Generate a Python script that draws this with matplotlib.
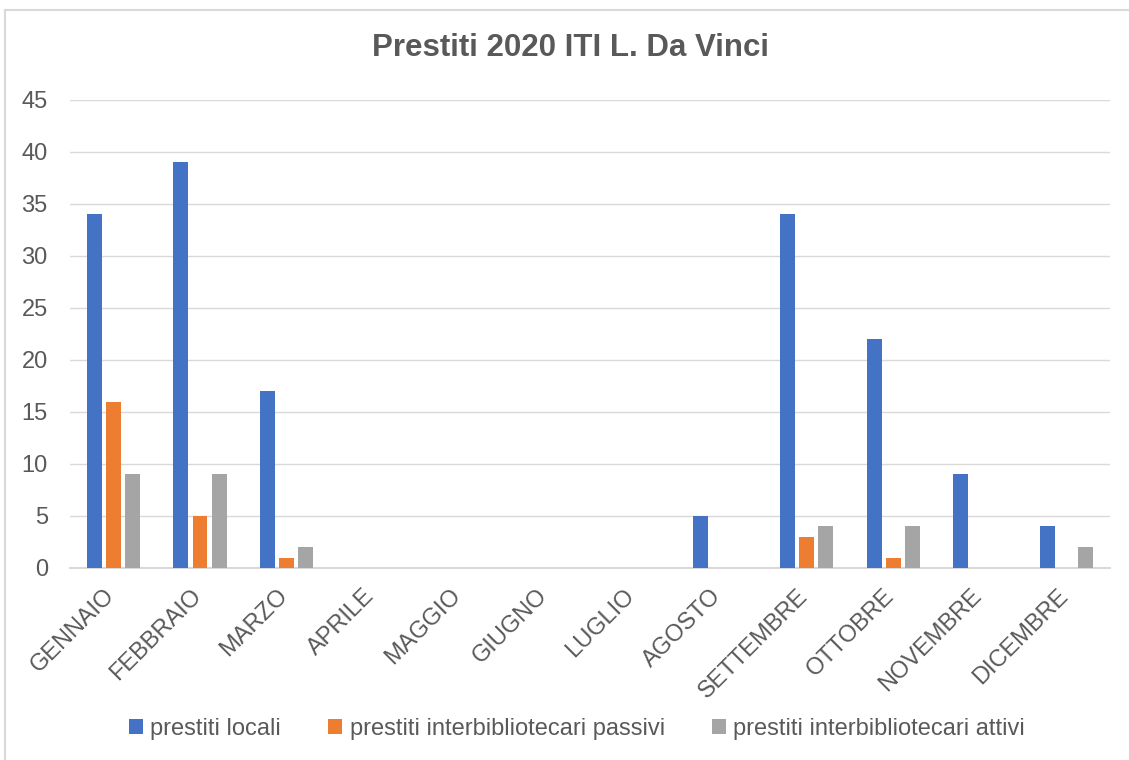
import matplotlib.pyplot as plt
import matplotlib.transforms as mtransforms
from matplotlib.lines import Line2D
import numpy as np

months = ["GENNAIO", "FEBBRAIO", "MARZO", "APRILE", "MAGGIO", "GIUGNO", "LUGLIO",
          "AGOSTO", "SETTEMBRE", "OTTOBRE", "NOVEMBRE", "DICEMBRE"]
locali = [34, 39, 17, 0, 0, 0, 0, 5, 34, 22, 9, 4]
passivi = [16, 5, 1, 0, 0, 0, 0, 0, 3, 1, 0, 0]
attivi = [9, 9, 2, 0, 0, 0, 0, 0, 4, 4, 0, 2]
series_names = ["prestiti locali", "prestiti interbibliotecari passivi", "prestiti interbibliotecari attivi"]
colors = ["#4472C4", "#ED7D31", "#A5A5A5"]

plt.rcParams['font.family'] = ['Liberation Sans', 'DejaVu Sans']
txt = "#595959"
W, H = 1129, 760

fig = plt.figure(figsize=(W / 100, H / 100), dpi=100)
# chart border (only top and left visible in the crop)
fig.add_artist(Line2D([5 / W, 1], [1 - 10 / H, 1 - 10 / H], transform=fig.transFigure,
                      color="#D9D9D9", linewidth=1.5))
fig.add_artist(Line2D([5 / W, 5 / W], [0, 1 - 10 / H], transform=fig.transFigure,
                      color="#D9D9D9", linewidth=1.5))

ax = fig.add_axes([70 / W, 1 - 568 / H, 1040 / W, 468 / H])

x = np.arange(len(months))
w = 0.173
step = 0.22
for i, (vals, name, c) in enumerate(zip([locali, passivi, attivi], series_names, colors)):
    ax.bar(x + (i - 1) * step, vals, width=w, color=c, label=name, zorder=3)

ax.set_xlim(-0.5, 11.5)
ax.set_ylim(0, 45)
ax.set_yticks(range(0, 46, 5))
ax.yaxis.grid(True, color="#D9D9D9", linewidth=1, zorder=0)
for s in ["top", "right", "left"]:
    ax.spines[s].set_visible(False)
ax.spines["bottom"].set_color("#D9D9D9")
ax.spines["bottom"].set_linewidth(1.5)
ax.tick_params(axis="y", length=0, labelsize=17, labelcolor=txt, pad=16)
ax.tick_params(axis="x", length=0, labelsize=17, labelcolor=txt, pad=12)
ax.set_xticks(x)
ax.set_xticklabels(months, rotation=45, ha="right", rotation_mode="anchor")
for lbl in ax.get_xticklabels():
    lbl.set_transform(lbl.get_transform() + mtransforms.ScaledTranslation(-0.1, 0, fig.dpi_scale_trans))

fig.text(571 / W, 1 - 48 / H, "Prestiti 2020 ITI L. Da Vinci", ha="center", va="center",
         fontsize=22.5, fontweight="bold", color=txt)

fig.legend(loc="center", bbox_to_anchor=(577 / W, 1 - 729 / H), ncol=3, frameon=False,
           fontsize=17, labelcolor=txt, handlelength=0.6, handleheight=0.6,
           handletextpad=0.3, columnspacing=2.0)

fig.savefig("out.png", dpi=100)
